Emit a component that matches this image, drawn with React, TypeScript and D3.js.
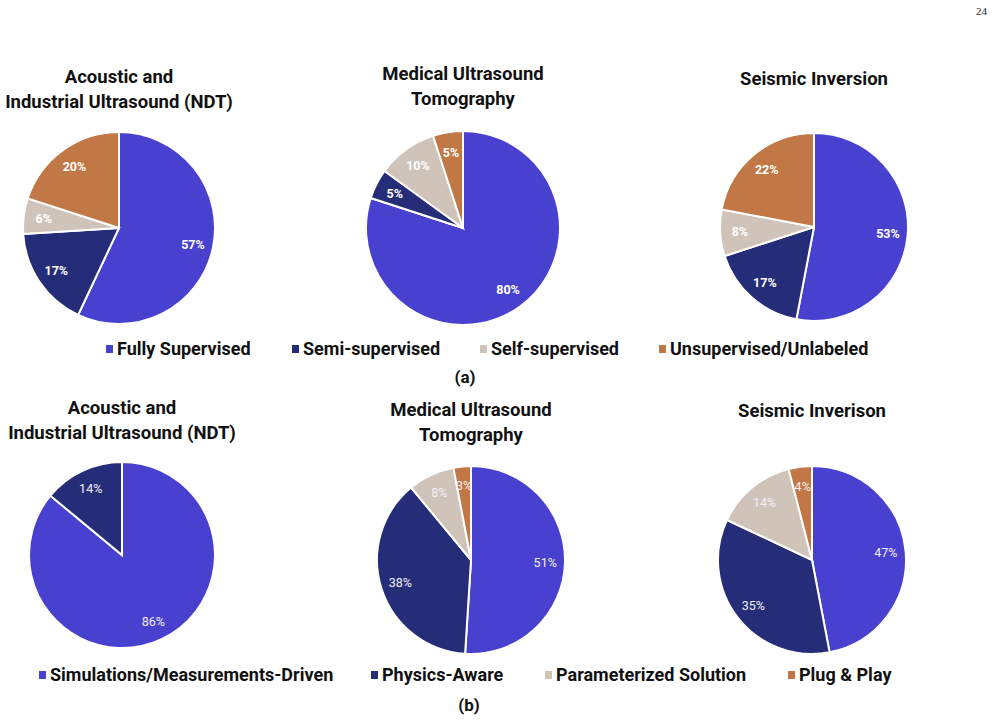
import React from "react";
import * as d3 from "d3";

// learning paradigm shares (%), panel (a)
const learningCategories = ["Fully Supervised", "Semi-supervised", "Self-supervised", "Unsupervised/Unlabeled"];
const ndtLearning = [57, 17, 6, 20];
const medicalLearning = [80, 5, 10, 5];
const seismicLearning = [53, 17, 8, 22];

// modelling approach shares (%), panel (b)
const methodCategories = ["Simulations/Measurements-Driven", "Physics-Aware", "Parameterized Solution", "Plug & Play"];
const ndtMethod = [86, 14, 0, 0];
const medicalMethod = [51, 38, 8, 3];
const seismicMethod = [47, 35, 14, 4];

const ndtTitle = ["Acoustic and", "Industrial Ultrasound (NDT)"];
const medicalTitle = ["Medical Ultrasound", "Tomography"];
const seismicTitleA = ["Seismic Inversion"];
const seismicTitleB = ["Seismic Inverison"];

const palette = ["#4841d0", "#252d78", "#d0c3ba", "#c27746"];
const FONT = "Roboto, 'Open Sans', sans-serif";

interface PieProps {
  values: number[];
  cx: number;
  cy: number;
  r: number;
  title: string[];
  titleY: number;
  boldLabels: boolean;
}

const PiePanel: React.FC<PieProps> = ({ values, cx, cy, r, title, titleY, boldLabels }) => {
  const pie = d3.pie<number>().sort(null).value(d => d)(values);
  const arc = d3.arc<d3.PieArcDatum<number>>().innerRadius(0).outerRadius(r);
  const labelArc = d3.arc<d3.PieArcDatum<number>>().innerRadius(r * 0.79).outerRadius(r * 0.79);
  const slices = pie.map((d, i) => ({ d, i })).filter(s => s.d.data > 0);

  return (
    <g>
      {title.map((line, k) => (
        <text
          key={k}
          x={cx}
          y={titleY + k * 25}
          textAnchor="middle"
          fontFamily={FONT}
          fontWeight={700}
          fontSize={18.5}
          fill="#111"
        >
          {line}
        </text>
      ))}
      <g transform={`translate(${cx},${cy})`}>
        {slices.map(({ d, i }) => (
          <path key={i} d={arc(d) as string} fill={palette[i]} stroke="#fff" strokeWidth={2} />
        ))}
        {slices.map(({ d, i }) => {
          const [lx, ly] = labelArc.centroid(d);
          return (
            <text
              key={`l${i}`}
              x={lx}
              y={ly}
              dy="0.35em"
              textAnchor="middle"
              fontFamily={FONT}
              fontWeight={boldLabels ? 700 : 400}
              fontSize={12.5}
              fill={boldLabels ? "#fff" : "#f2eef6"}
            >
              {`${d.data}%`}
            </text>
          );
        })}
      </g>
    </g>
  );
};

interface LegendProps {
  labels: string[];
  xs: number[];
  y: number;
}

const Legend: React.FC<LegendProps> = ({ labels, xs, y }) => (
  <g>
    {labels.map((label, i) => (
      <g key={label} transform={`translate(${xs[i]},${y})`}>
        <rect x={0} y={-4} width={7} height={8} fill={palette[i]} />
        <text x={11} y={0} dy="0.36em" fontFamily={FONT} fontWeight={700} fontSize={18} fill="#111">
          {label}
        </text>
      </g>
    ))}
  </g>
);

export default function App() {
  return (
    <svg
      width={994}
      height={722}
      style={{ position: "absolute", left: 0, top: 0, background: "#fff" }}
    >
      <rect width={994} height={722} fill="#fff" />
      <text x={987} y={15} textAnchor="end" fontFamily="'Liberation Serif', serif" fontSize={11} fill="#222">
        24
      </text>

      <PiePanel values={ndtLearning} cx={119} cy={228} r={96} title={ndtTitle} titleY={83} boldLabels />
      <PiePanel values={medicalLearning} cx={463} cy={228} r={97} title={medicalTitle} titleY={80} boldLabels />
      <PiePanel values={seismicLearning} cx={814} cy={227} r={94} title={seismicTitleA} titleY={85} boldLabels />
      <Legend labels={learningCategories} xs={[106, 292, 480, 659]} y={349} />
      <text x={465} y={383} textAnchor="middle" fontFamily={FONT} fontWeight={700} fontSize={17} fill="#111">
        (a)
      </text>

      <PiePanel values={ndtMethod} cx={122} cy={555} r={93} title={ndtTitle} titleY={414} boldLabels={false} />
      <PiePanel values={medicalMethod} cx={471} cy={560} r={94} title={medicalTitle} titleY={416} boldLabels={false} />
      <PiePanel values={seismicMethod} cx={812} cy={560} r={94} title={seismicTitleB} titleY={417} boldLabels={false} />
      <Legend labels={methodCategories} xs={[39, 371, 545, 788]} y={675} />
      <text x={469} y={711} textAnchor="middle" fontFamily={FONT} fontWeight={700} fontSize={17} fill="#111">
        (b)
      </text>
    </svg>
  );
}
